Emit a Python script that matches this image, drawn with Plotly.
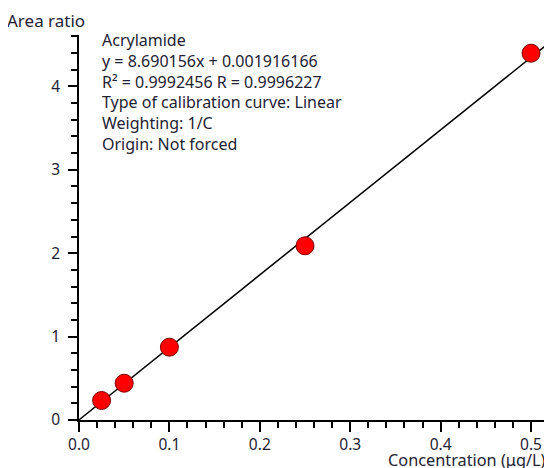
import plotly.graph_objects as go

# Data
concentration = [0.025, 0.05, 0.1, 0.25, 0.5]
area_ratio = [0.234, 0.441, 0.873, 2.089, 4.398]

slope = 8.690156
intercept = 0.001916166
line_x = [0.0, 0.53]
line_y = [slope * x + intercept for x in line_x]

info_lines = [
    "Acrylamide",
    "y = 8.690156x + 0.001916166",
    "R² = 0.9992456 R = 0.9996227",
    "Type of calibration curve: Linear",
    "Weighting: 1/C",
    "Origin: Not forced",
]
x_title = "Concentration (μg/L)"
y_title = "Area ratio"

FONT = "Noto Sans"
TXT = "#1e2233"

fig = go.Figure()
fig.add_trace(go.Scatter(
    x=line_x, y=line_y, mode="lines",
    line=dict(color="black", width=1.5),
    hoverinfo="skip", showlegend=False,
))
fig.add_trace(go.Scatter(
    x=concentration, y=area_ratio, mode="markers",
    marker=dict(size=18, color="#ff0000", line=dict(color="#7a0000", width=1)),
    showlegend=False, cliponaxis=False,
))

# page body has an 8px margin, so the figure is 8px smaller than the window
W, H = 544, 460
ml, mr, mt, mb = 71, 0, 27, 48

annotations = [
    dict(text=y_title, xref="paper", yref="paper", x=0, y=1,
         xanchor="left", yanchor="top", xshift=-74, yshift=28.5,
         showarrow=False, font=dict(family=FONT, size=17, color=TXT)),
    dict(text=x_title, xref="paper", yref="paper", x=1, y=0,
         xanchor="right", yanchor="top", xshift=-4, yshift=-26.5,
         showarrow=False, font=dict(family=FONT, size=16.3, color=TXT)),
    dict(text="<br>".join(info_lines), xref="paper", yref="paper",
         x=0, y=1, xanchor="left", yanchor="top", align="left",
         xshift=21, yshift=8.5, showarrow=False,
         font=dict(family=FONT, size=16, color=TXT)),
]

fig.update_layout(
    width=W, height=H,
    margin=dict(l=ml, r=mr, t=mt, b=mb),
    plot_bgcolor="white", paper_bgcolor="white",
    font=dict(family=FONT, size=15, color=TXT),
    xaxis=dict(
        range=[0, 0.5232], showgrid=False, zeroline=False,
        showline=True, linecolor="black", linewidth=1.5,
        ticks="outside", ticklen=10, tickwidth=1.5, tickcolor="black",
        dtick=0.1, tick0=0, tickformat=".1f",
        minor=dict(dtick=0.02, tick0=0, ticks="outside", ticklen=6,
                   tickwidth=1.5, tickcolor="black"),
        tickfont=dict(family=FONT, size=15.5, color=TXT),
    ),
    yaxis=dict(
        range=[0, 4.616], showgrid=False, zeroline=False,
        showline=True, linecolor="black", linewidth=1.5,
        ticks="outside", ticklen=9, tickwidth=1.5, tickcolor="black",
        dtick=1, tick0=0,
        minor=dict(dtick=0.2, tick0=0, ticks="outside", ticklen=6,
                   tickwidth=1.5, tickcolor="black"),
        tickfont=dict(family=FONT, size=15.5, color=TXT),
        ticklabelstandoff=5,
    ),
    annotations=annotations,
)

fig.write_html("out.html")
